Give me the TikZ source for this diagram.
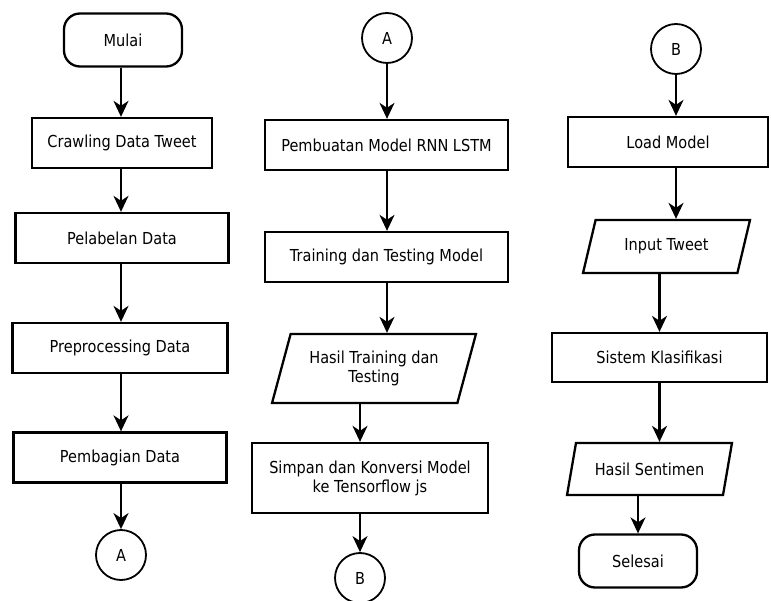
\documentclass[tikz,border=0pt]{standalone}
\usepackage{fontspec}
\setmainfont{DejaVu Sans}[FakeStretch=0.88]
\usepackage{tikz}
\usetikzlibrary{arrows.meta,shapes.geometric}

\tikzset{
    every node/.style={font=\fontsize{16.5}{19}\selectfont, align=center},
    proses/.style={draw, line width=2.3pt, rectangle, minimum height=50pt},
    terminal/.style={draw, line width=2.3pt, rectangle, rounded corners=16pt, minimum width=118pt, minimum height=53pt},
    konektor/.style={draw, line width=1.8pt, circle, minimum size=50pt, inner sep=0pt},
    io/.style={draw, line width=2.3pt, trapezium, trapezium left angle=70, trapezium right angle=110,
        trapezium stretches=true},
    panah/.style={line width=2.2pt, -{Stealth[length=16pt,width=15pt,inset=5pt]}}
}

\begin{document}
\begin{tikzpicture}[x=1pt,y=-1pt]
    \useasboundingbox (0,0) rectangle (771,601);
    %kolom pertama
    \node[terminal] (mulai) at (123,40) {Mulai};
    \node[proses, minimum width=180pt] (crawl) at (122,143) {Crawling Data Tweet};
    \node[proses, minimum width=213pt] (label) at (122,238) {Pelabelan Data};
    \node[proses, minimum width=215pt] (prepro) at (120,348) {Preprocessing Data};
    \node[proses, minimum width=213pt] (bagi) at (120,457.5) {Pembagian Data};
    \node[konektor] (A1) at (121,555) {A};
    \draw[panah] (mulai.south -| A1) -- (A1 |- crawl.north);
    \draw[panah] (A1 |- crawl.south) -- (A1 |- label.north);
    \draw[panah] (A1 |- label.south) -- (A1 |- prepro.north);
    \draw[panah] (A1 |- prepro.south) -- (A1 |- bagi.north);
    \draw[panah] (A1 |- bagi.south) -- (A1.north);
    %kolom kedua
    \node[konektor] (A2) at (387,38) {A};
    \node[proses, minimum width=243pt] (model) at (386.5,145) {Pembuatan Model RNN LSTM};
    \node[proses, minimum width=243pt] (latih) at (386.5,257) {Training dan Testing Model};
    \node[io, minimum width=204pt, minimum height=69pt] (hasil) at (374,368.5) {Hasil Training dan\\Testing};
    \node[proses, minimum width=236pt, minimum height=70pt] (simpan) at (370,478) {Simpan dan Konversi Model\\ke Tensorflow js};
    \node[konektor] (B2) at (360,578) {B};
    \draw[panah] (A2.south) -- (A2 |- model.north);
    \draw[panah] (A2 |- model.south) -- (A2 |- latih.north);
    \draw[panah] (A2 |- latih.south) -- (A2 |- hasil.north);
    \draw[panah] (B2 |- hasil.south) -- (B2 |- simpan.north);
    \draw[panah] (B2 |- simpan.south) -- (B2.north);
    %kolom ketiga
    \node[konektor] (B3) at (676,49) {B};
    \node[proses, minimum width=200pt] (muat) at (668,142) {Load Model};
    \node[io, minimum width=167pt, minimum height=53pt] (input) at (666.5,246.5) {Input Tweet};
    \node[proses, minimum width=215pt, minimum height=49pt] (klasif) at (659.5,357.5) {Sistem Klasifikasi};
    \node[io, minimum width=165pt, minimum height=52pt] (sentimen) at (649.5,469) {Hasil Sentimen};
    \node[terminal] (selesai) at (638,561) {Selesai};
    \draw[panah] (B3.south) -- (B3 |- muat.north);
    \draw[panah] (B3 |- muat.south) -- (B3 |- input.north);
    \draw[panah] (klasif.center |- input.south) -- (klasif.north);
    \draw[panah] (klasif.south) -- (klasif.south |- sentimen.north);
    \draw[panah] (selesai.center |- sentimen.south) -- (selesai.north);
\end{tikzpicture}
\end{document}
